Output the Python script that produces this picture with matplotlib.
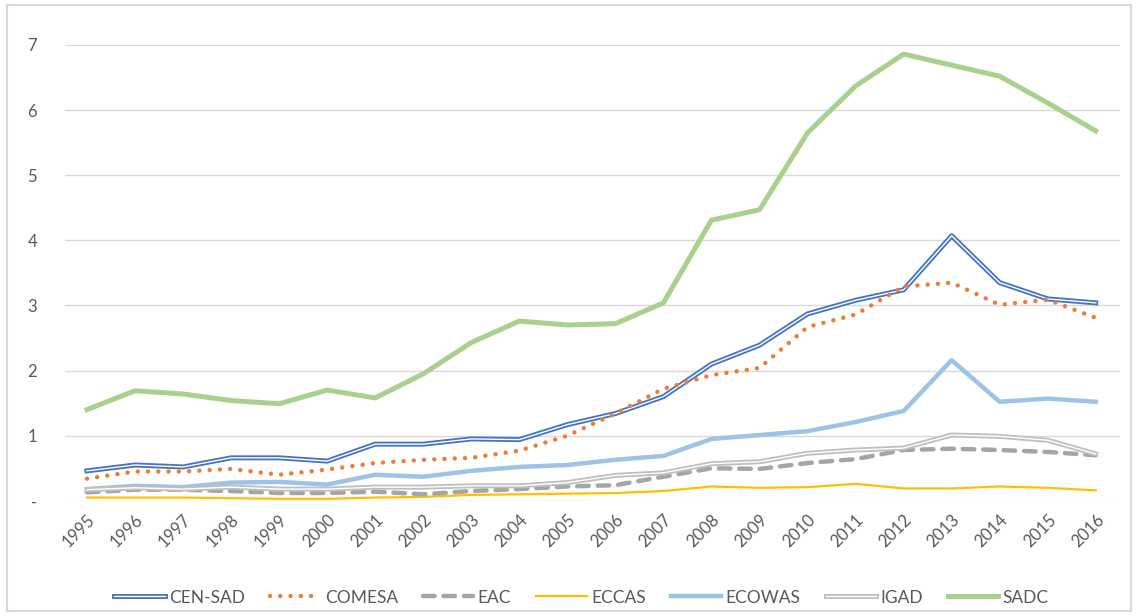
import numpy as np
import matplotlib.pyplot as plt
import matplotlib.patheffects as pe
from matplotlib.patches import Rectangle

plt.rcParams['font.family'] = ['Lato', 'DejaVu Sans']

years = list(range(1995, 2017))

cen_sad = [0.46, 0.55, 0.52, 0.66, 0.66, 0.61, 0.87, 0.87, 0.95, 0.94, 1.17,
           1.34, 1.60, 2.10, 2.39, 2.87, 3.08, 3.24, 4.07, 3.35, 3.10, 3.04]
comesa = [0.34, 0.45, 0.45, 0.49, 0.40, 0.48, 0.58, 0.63, 0.66, 0.77, 1.00,
          1.34, 1.72, 1.93, 2.04, 2.67, 2.86, 3.29, 3.35, 3.01, 3.09, 2.81]
eac = [0.13, 0.17, 0.17, 0.15, 0.12, 0.12, 0.14, 0.10, 0.15, 0.18, 0.22,
       0.24, 0.37, 0.50, 0.49, 0.58, 0.64, 0.78, 0.80, 0.78, 0.75, 0.70]
eccas = [0.05, 0.05, 0.05, 0.04, 0.03, 0.03, 0.05, 0.06, 0.09, 0.10, 0.11,
         0.12, 0.15, 0.22, 0.20, 0.21, 0.26, 0.19, 0.19, 0.22, 0.20, 0.16]
ecowas = [0.18, 0.23, 0.21, 0.28, 0.29, 0.25, 0.40, 0.37, 0.46, 0.52, 0.55,
          0.63, 0.69, 0.95, 1.01, 1.07, 1.21, 1.38, 2.16, 1.52, 1.57, 1.52]
igad = [0.17, 0.20, 0.18, 0.21, 0.18, 0.18, 0.21, 0.21, 0.23, 0.23, 0.28,
        0.39, 0.43, 0.57, 0.60, 0.73, 0.78, 0.81, 1.01, 0.99, 0.93, 0.72]
sadc = [1.40, 1.69, 1.64, 1.54, 1.49, 1.70, 1.58, 1.95, 2.43, 2.76, 2.70,
        2.72, 3.04, 4.31, 4.47, 5.65, 6.37, 6.86, 6.69, 6.52, 6.11, 5.68]

fig = plt.figure(figsize=(11.38, 6.16), dpi=100)
ax = fig.add_axes([0.057, 0.187, 0.927, 0.74])

# outer frame
fig.patches.append(Rectangle((0.006, 0.008), 0.988, 0.984, transform=fig.transFigure,
                             fill=False, edgecolor='#D9D9D9', linewidth=1.5))

def double(color):
    return [pe.Stroke(linewidth=3.6, foreground=color), pe.Normal()]

ax.plot(years, cen_sad, color='white', lw=1.0, label='CEN-SAD',
        path_effects=double('#4472C4'), zorder=6)
ax.plot(years, comesa, color='#ED7D31', lw=3.2, linestyle=(0, (0.01, 2.3)),
        dash_capstyle='round', label='COMESA', zorder=7)
ax.plot(years, eac, color='#A5A5A5', lw=3.2, linestyle=(0, (2.6, 2.0)),
        dash_capstyle='round', label='EAC', zorder=4)
ax.plot(years, eccas, color='#FFC000', lw=1.6, label='ECCAS', zorder=3)
ax.plot(years, ecowas, color='#9DC3E6', lw=3.2, label='ECOWAS', zorder=3)
ax.plot(years, igad, color='white', lw=1.0, label='IGAD',
        path_effects=double('#BFBFBF'), zorder=5)
ax.plot(years, sadc, color='#A9D18E', lw=3.6, label='SADC', zorder=3)

ax.set_xlim(1994.54, 2016.5)
ax.set_ylim(0, 7)
ax.set_yticks(range(8))
ax.set_yticklabels(['-'] + [str(i) for i in range(1, 8)])
ax.set_xticks(years)
ax.set_xticklabels([str(y) for y in years], rotation=45, ha='right',
                   rotation_mode='anchor')
ax.grid(axis='y', color='#D9D9D9', lw=1)
ax.set_axisbelow(True)
for s in ax.spines.values():
    s.set_visible(False)
ax.tick_params(length=0, colors='#595959', labelsize=12)
ax.tick_params(axis='y', pad=20)
ax.tick_params(axis='x', pad=8)

leg = fig.legend(loc='center', bbox_to_anchor=(0.511, 0.03), ncol=7, frameon=False,
                 fontsize=12.5, handlelength=2.9, columnspacing=1.45, handletextpad=0.25)
for t in leg.get_texts():
    t.set_color('#595959')

fig.savefig('out.png', dpi=100)
